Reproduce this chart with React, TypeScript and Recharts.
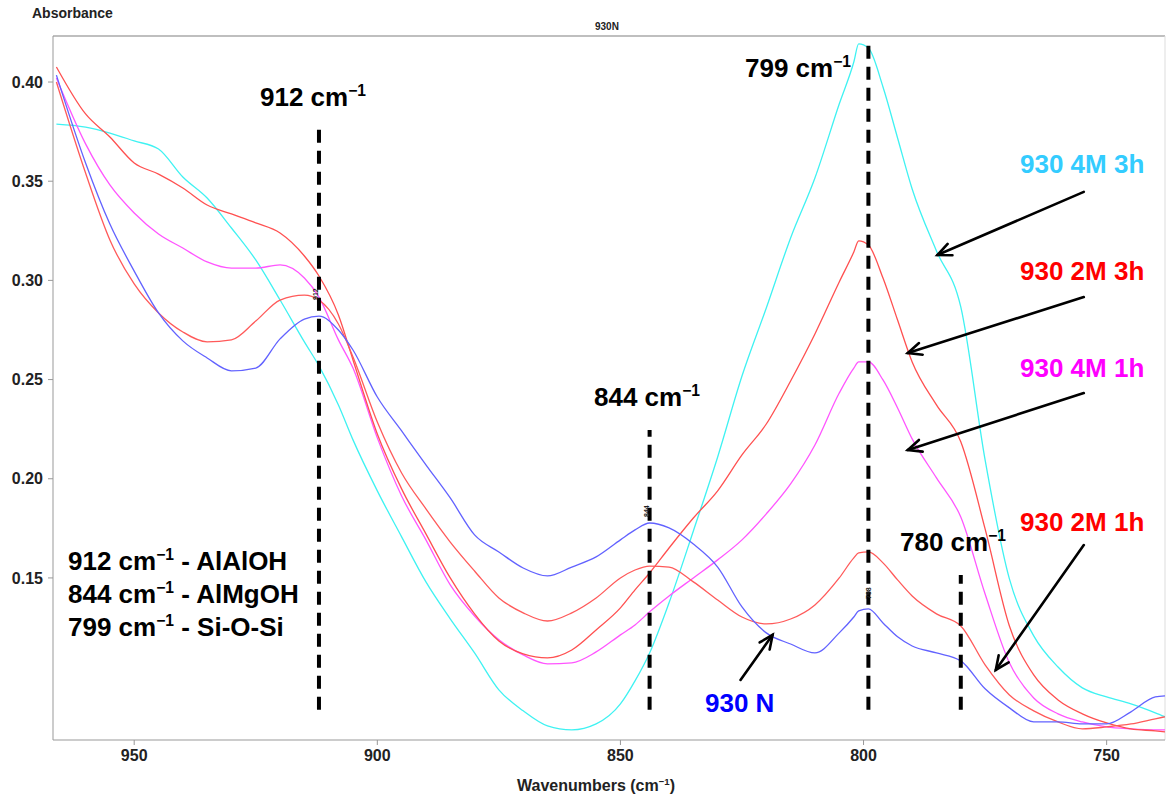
import React from 'react';
import { LineChart, Line, XAxis, YAxis, ReferenceLine } from 'recharts';

// wavenumbers (cm-1)
const wavenumbers = [
  966, 960, 955, 950, 945, 940, 935, 930, 925, 920,
  915, 912, 908, 905, 900, 895, 890, 885, 880, 875,
  870, 865, 860, 855, 850, 847, 844, 840, 835, 830,
  825, 820, 815, 810, 805, 802, 801, 799, 796, 793,
  790, 785, 780, 775, 770, 765, 760, 755, 750, 745,
  740, 738,
];

// absorbance per sample, same order as wavenumbers
const s930N = [
  0.4035, 0.3592, 0.3284, 0.3047, 0.2836, 0.2695, 0.2609, 0.2544, 0.2558, 0.2705,
  0.2805, 0.282, 0.275, 0.2649, 0.2412, 0.2241, 0.207, 0.1903, 0.1717, 0.1631,
  0.155, 0.151, 0.1555, 0.1606, 0.1692, 0.1742, 0.1777, 0.1752, 0.1671, 0.1555,
  0.1354, 0.1223, 0.1167, 0.1122, 0.1223, 0.1303, 0.1334, 0.1344, 0.1273, 0.1203,
  0.1157, 0.1122, 0.1082, 0.0941, 0.0845, 0.0774, 0.0774, 0.0764, 0.0764, 0.0825,
  0.09, 0.0905,
];
const s2M1h = [
  0.4, 0.3541, 0.3204, 0.2982, 0.2836, 0.274, 0.269, 0.27, 0.2795, 0.2901,
  0.2926, 0.2901, 0.278, 0.2614, 0.2286, 0.2029, 0.1848, 0.1681, 0.1535, 0.1399,
  0.1324, 0.1283, 0.1324, 0.1399, 0.15, 0.154, 0.156, 0.1555, 0.148, 0.1389,
  0.1303, 0.1268, 0.1293, 0.1364, 0.15, 0.1601, 0.1626, 0.1631, 0.1576, 0.149,
  0.1409, 0.1319, 0.1258, 0.1062, 0.091, 0.083, 0.0774, 0.0739, 0.0749, 0.0764,
  0.079, 0.08,
];
const s2M3h = [
  0.4076, 0.3839, 0.3723, 0.3592, 0.3536, 0.3466, 0.338, 0.3335, 0.329, 0.3239,
  0.3123, 0.3022, 0.2826, 0.2599, 0.2226, 0.1949, 0.1722, 0.15, 0.1319, 0.1182,
  0.1117, 0.1097, 0.1137, 0.1238, 0.1349, 0.144, 0.1525, 0.1651, 0.1802, 0.1939,
  0.212, 0.2276, 0.2493, 0.273, 0.2992, 0.3143, 0.3199, 0.3178, 0.3012, 0.28,
  0.2589, 0.2372, 0.2186, 0.1747, 0.1258, 0.1011, 0.0885, 0.0815, 0.0769, 0.0739,
  0.0729, 0.0724,
];
const s4M1h = [
  0.402, 0.3688, 0.3481, 0.334, 0.3234, 0.3163, 0.3093, 0.3062, 0.3062, 0.3078,
  0.3012, 0.2916, 0.27, 0.2558, 0.2206, 0.1913, 0.1692, 0.1465, 0.1308, 0.1188,
  0.1112, 0.1067, 0.1072, 0.1127, 0.1213, 0.1263, 0.1329, 0.1409, 0.15, 0.1591,
  0.1692, 0.1823, 0.1974, 0.217, 0.2432, 0.2558, 0.2589, 0.2589, 0.2498, 0.2357,
  0.2201, 0.2004, 0.1807, 0.1419, 0.1072, 0.0895, 0.0815, 0.0774, 0.0749, 0.0739,
  0.0734, 0.0734,
];
const s4M3h = [
  0.3788, 0.3773, 0.3743, 0.3703, 0.3662, 0.3521, 0.3415, 0.3264, 0.3103, 0.2901,
  0.269, 0.2569, 0.2372, 0.2196, 0.1939, 0.1707, 0.148, 0.1294, 0.1122, 0.0936,
  0.083, 0.0754, 0.0734, 0.0764, 0.0865, 0.0981, 0.1122, 0.1375, 0.1737, 0.211,
  0.2518, 0.2861, 0.3214, 0.3516, 0.3889, 0.4101, 0.4192, 0.4171, 0.3975, 0.3718,
  0.3461, 0.3148, 0.2866, 0.2095, 0.1495, 0.1208, 0.1051, 0.0946, 0.09, 0.0865,
  0.082, 0.08,
];

const xTicks = [950, 900, 850, 800, 750];
const yTicks = [0.15, 0.2, 0.25, 0.3, 0.35, 0.4];

// band markers: wavenumber, dashed line from/to absorbance
const bandLines = [
  { x: 912, from: 0.0835, to: 0.3798 },
  { x: 844, from: 0.0835, to: 0.2246 },
  { x: 799, from: 0.0835, to: 0.4186 },
  { x: 780, from: 0.0835, to: 0.1515 },
];

// label arrows (tail -> head) in data units
const arrows = [
  { x1: 754.7, y1: 0.3446, x2: 784.8, y2: 0.3128 },
  { x1: 754.7, y1: 0.2916, x2: 790.9, y2: 0.2634 },
  { x1: 754.7, y1: 0.2432, x2: 790.9, y2: 0.2145 },
  { x1: 754.7, y1: 0.1666, x2: 772.8, y2: 0.1036 },
  { x1: 825.3, y1: 0.0986, x2: 818.7, y2: 0.1213 },
];

const X_DOMAIN: [number, number] = [738, 966.7];
const Y_DOMAIN: [number, number] = [0.0683, 0.4232];

const data = wavenumbers.map((w, i) => ({
  w,
  n: s930N[i],
  a: s2M1h[i],
  b: s2M3h[i],
  c: s4M1h[i],
  d: s4M3h[i],
}));

const FONT = '"Liberation Sans", Arial, Helvetica, sans-serif';

function Cm({ n }: { n: number }) {
  return (
    <>
      {n} cm
      <span style={{ fontSize: '0.6em', position: 'relative', top: '-0.62em' }}>−1</span>
    </>
  );
}

function ArrowShape(props: any) {
  const { x1, y1, x2, y2 } = props;
  if ([x1, y1, x2, y2].some((v) => typeof v !== 'number' || isNaN(v))) return <g />;
  const ang = Math.atan2(y2 - y1, x2 - x1);
  const len = 15;
  const spread = 0.42;
  const ax = x2 - len * Math.cos(ang - spread);
  const ay = y2 - len * Math.sin(ang - spread);
  const bx = x2 - len * Math.cos(ang + spread);
  const by = y2 - len * Math.sin(ang + spread);
  return (
    <g stroke="#000" strokeWidth={2.6} fill="none" strokeLinecap="round">
      <line x1={x1} y1={y1} x2={x2} y2={y2} />
      <polyline points={`${ax},${ay} ${x2},${y2} ${bx},${by}`} />
    </g>
  );
}

const bigText: React.CSSProperties = {
  position: 'absolute',
  fontFamily: FONT,
  fontWeight: 700,
  fontSize: 26,
  lineHeight: '26px',
  whiteSpace: 'nowrap',
};

function Note({ left, top, color = '#000', children }: any) {
  return <div style={{ ...bigText, left, top, color }}>{children}</div>;
}

function Tiny({ left, top, text }: { left: number; top: number; text: string }) {
  return (
    <div
      style={{
        position: 'absolute',
        left,
        top,
        fontFamily: FONT,
        fontSize: 7,
        fontWeight: 700,
        transform: 'rotate(-90deg)',
        transformOrigin: 'left top',
        color: '#222',
      }}
    >
      {text}
    </div>
  );
}

export default function App() {
  const tickStyle = { fontSize: 16, fontWeight: 700, fill: '#222', fontFamily: FONT };
  return (
    <div
      style={{
        position: 'absolute',
        left: 0,
        top: 0,
        width: 1173,
        height: 798,
        background: '#fff',
        fontFamily: FONT,
      }}
    >
      <LineChart
        width={1173}
        height={798}
        data={data}
        margin={{ top: 36, right: 8, bottom: 28, left: 0 }}
      >
        <XAxis
          dataKey="w"
          type="number"
          domain={X_DOMAIN}
          reversed
          allowDataOverflow
          ticks={xTicks}
          height={30}
          tick={tickStyle}
          tickSize={5}
          tickMargin={5}
          stroke="#999"
        />
        <YAxis
          type="number"
          domain={Y_DOMAIN}
          allowDataOverflow
          ticks={yTicks}
          width={53}
          tick={tickStyle}
          tickFormatter={(v) => Number(v).toFixed(2)}
          tickSize={5}
          tickMargin={5}
          stroke="#999"
        />
        <ReferenceLine y={Y_DOMAIN[1]} stroke="#aaa" strokeWidth={1.5} />
        <ReferenceLine x={X_DOMAIN[0]} stroke="#ddd" strokeWidth={1} />
        <Line dataKey="d" type="monotone" stroke="#3ff2f2" strokeWidth={1.3} dot={false} isAnimationActive={false} />
        <Line dataKey="c" type="monotone" stroke="#ff55ff" strokeWidth={1.3} dot={false} isAnimationActive={false} />
        <Line dataKey="b" type="monotone" stroke="#ff5050" strokeWidth={1.3} dot={false} isAnimationActive={false} />
        <Line dataKey="a" type="monotone" stroke="#ff5a5a" strokeWidth={1.3} dot={false} isAnimationActive={false} />
        <Line dataKey="n" type="monotone" stroke="#6262ff" strokeWidth={1.3} dot={false} isAnimationActive={false} />
        {bandLines.map((b) => (
          <ReferenceLine
            key={b.x}
            segment={[
              { x: b.x, y: b.from },
              { x: b.x, y: b.to },
            ]}
            stroke="#000"
            strokeWidth={4}
            strokeDasharray="13 8"
          />
        ))}
        {arrows.map((a, i) => (
          <ReferenceLine
            key={i}
            segment={[
              { x: a.x1, y: a.y1 },
              { x: a.x2, y: a.y2 },
            ]}
            shape={ArrowShape}
          />
        ))}
      </LineChart>

      <div style={{ position: 'absolute', left: 32, top: 5, fontSize: 14, fontWeight: 700, color: '#222' }}>
        Absorbance
      </div>
      <div style={{ position: 'absolute', left: 595, top: 21, fontSize: 10, fontWeight: 700, color: '#222' }}>
        930N
      </div>
      <div style={{ position: 'absolute', left: 517, top: 777, fontSize: 16, fontWeight: 700, color: '#222' }}>
        Wavenumbers (cm<span style={{ fontSize: '0.6em', position: 'relative', top: '-0.6em' }}>−1</span>)
      </div>

      <Note left={260} top={84}><Cm n={912} /></Note>
      <Note left={745} top={55}><Cm n={799} /></Note>
      <Note left={594} top={384}><Cm n={844} /></Note>
      <Note left={900} top={529}><Cm n={780} /></Note>

      <Note left={68} top={548}><Cm n={912} /> - AlAlOH</Note>
      <Note left={68} top={581}><Cm n={844} /> - AlMgOH</Note>
      <Note left={68} top={614}><Cm n={799} /> - Si-O-Si</Note>

      <Note left={1020} top={151} color="#33ccff">930 4M 3h</Note>
      <Note left={1020} top={258} color="#ff0000">930 2M 3h</Note>
      <Note left={1020} top={355} color="#ff00ff">930 4M 1h</Note>
      <Note left={1020} top={509} color="#ff0000">930 2M 1h</Note>
      <Note left={705} top={690} color="#0000ff">930 N</Note>

      <Tiny left={312} top={300} text="912" />
      <Tiny left={643} top={517} text="844" />
      <Tiny left={865} top={599} text="798" />
    </div>
  );
}
